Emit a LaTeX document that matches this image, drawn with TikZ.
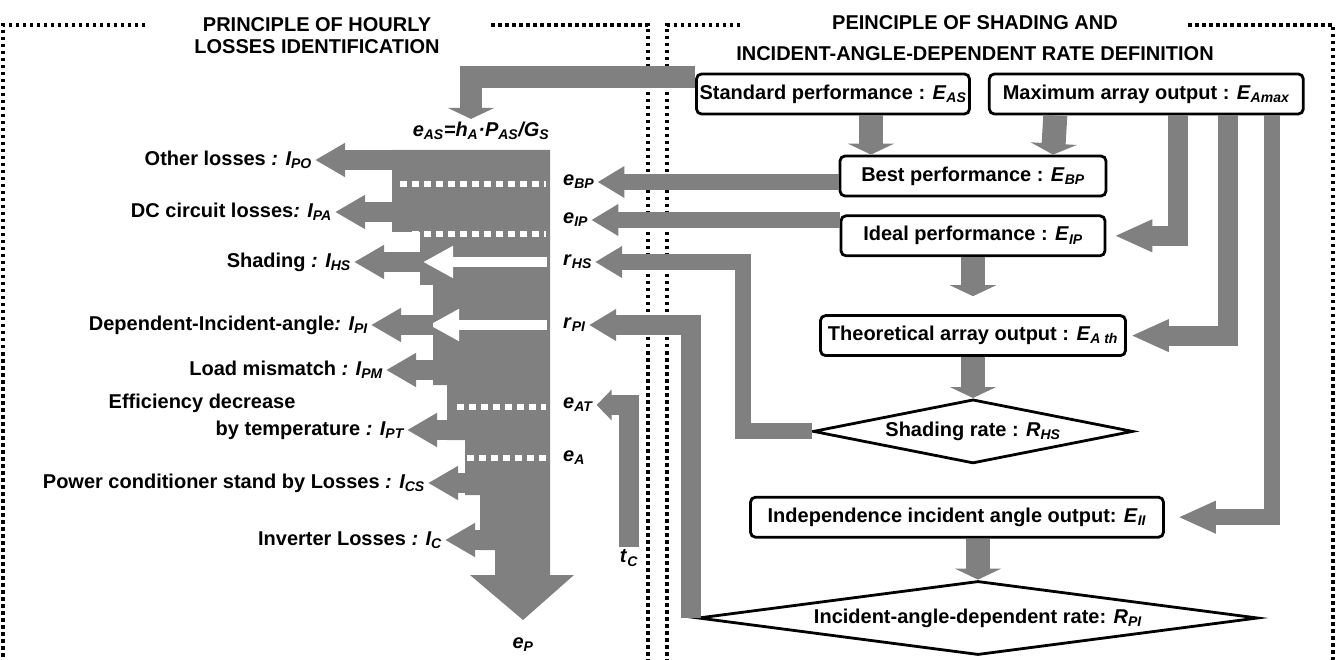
\documentclass[tikz,border=0pt]{standalone}
\usepackage{fontspec}
\setmainfont{Liberation Sans}
\usetikzlibrary{arrows.meta,positioning,shapes.geometric}
\definecolor{flowgray}{RGB}{128,128,128}
\newcommand{\qsym}[2]{\textit{#1}\textsubscript{\textit{#2}}}

\begin{document}
\begin{tikzpicture}[
      x=1pt, y=-1pt,
      every node/.style={font=\bfseries\fontsize{20}{23}\selectfont, inner sep=3pt},
      framepart/.style={line width=3.5pt, dash pattern=on 3.5pt off 3.5pt},
      flowbox/.style={draw, line width=2.8pt, rounded corners=5pt, minimum height=40pt, fill=white},
      ratebox/.style={diamond, draw, line width=2.8pt, inner sep=0pt, fill=white},
      lossarrow/.style={draw=flowgray, line width=20pt, -{Triangle[width=32pt,length=30pt]}},
      feedarrow/.style={draw=flowgray, line width=16pt, -{Triangle[width=30pt,length=27pt]}},
      downarrow/.style={draw=flowgray, line width=24pt, -{Triangle[width=46pt,length=11pt]}},
      sidearrow/.style={draw=flowgray, line width=20pt, -{Triangle[width=30pt,length=38pt]}},
      whitedash/.style={draw=white, line width=6.5pt, dash pattern=on 7pt off 5pt},
      whitearrow/.style={draw=white, line width=10pt, -{Triangle[width=30pt,length=30pt]}},
    ]
    \useasboundingbox (0,0) rectangle (1339,660);

    % Two dotted frames with their titles
    \node[align=center] (lhead) at (317,36) {PRINCIPLE OF HOURLY\\[-1pt]LOSSES IDENTIFICATION};
    \node[align=center] (rhead) at (975,38) {PEINCIPLE OF SHADING AND\\[8pt]INCIDENT-ANGLE-DEPENDENT RATE DEFINITION};
    \draw[framepart] (145,25) -- (3,25) -- (3,662);
    \draw[framepart] (491,25) -- (648,25) -- (648,662);
    \draw[framepart] (740,25) -- (667,25) -- (667,662);
    \draw[framepart] (1188,25) -- (1333,25) -- (1333,662);

    % Main energy flow, narrowing with every loss
    \fill[flowgray] (392,150) -- (550,150) -- (550,575) -- (574,575) -- (523,620)
      -- (470,575) -- (495,575) -- (495,550) -- (480,550) -- (480,495) -- (465,495)
      -- (465,440) -- (447,440) -- (447,385) -- (433,385) -- (433,285) -- (420,285)
      -- (420,232) -- (392,232) -- cycle;
    \draw[whitedash] (400,184) -- (546,184);
    \draw[whitedash] (412,234) -- (546,234);
    \draw[whitedash] (457,407) -- (546,407);
    \draw[whitedash] (467,458) -- (546,458);
    \draw[whitearrow] (547,262) -- (423,262);
    \draw[whitearrow] (547,325) -- (429,325);

    \node (eas) at (481,131) {\textit{\qsym{e}{AS}=\qsym{h}{A}·\qsym{P}{AS}/\qsym{G}{S}}};
    \node (ep) at (523,645) {\qsym{e}{P}};

    % Loss outlets on the left
    \coordinate (bPO) at (392,160);
    \coordinate (bPA) at (392,212);
    \coordinate (bHS) at (420,262);
    \coordinate (bPI) at (433,325);
    \coordinate (bPM) at (433,370);
    \coordinate (bPT) at (447,430);
    \coordinate (bCS) at (465,483);
    \coordinate (bC)  at (480,540);
    \node[left=77pt of bPO] (lPO) {Other losses \textit{: \qsym{I}{PO}}};
    \node[left=57pt of bPA] (lPA) {DC circuit losses\textit{: \qsym{I}{PA}}};
    \node[left=66pt of bHS] (lHS) {Shading \textit{: \qsym{I}{HS}}};
    \node[left=62pt of bPI] (lPI) {Dependent-Incident-angle\textit{: \qsym{I}{PI}}};
    \node[left=47pt of bPM] (lPM) {Load mismatch \textit{: \qsym{I}{PM}}};
    \node[left=40pt of bPT] (lPT) {by temperature \textit{: \qsym{I}{PT}}};
    \node[anchor=base west] (lEff) at ([xshift=-107pt, yshift=27pt]lPT.base west) {Efficiency decrease};
    \node[left=37pt of bCS] (lCS) {Power conditioner stand by Losses \textit{: \qsym{I}{CS}}};
    \node[left=35pt of bC] (lC) {Inverter Losses \textit{: \qsym{I}{C}}};
    \foreach \k in {PO,PA,HS,PI,PM,PT,CS,C}
      \draw[lossarrow] (b\k) -- (l\k);

    % Rates and energies feeding the flow from the right
    \node[anchor=west] (ebp) at (560,182) {\qsym{e}{BP}};
    \node[anchor=west] (eip) at (560,220) {\qsym{e}{IP}};
    \node[anchor=west] (rhs) at (560,262) {\qsym{r}{HS}};
    \node[anchor=west] (rpi) at (560,325) {\qsym{r}{PI}};
    \node[anchor=west] (eat) at (560,405) {\qsym{e}{AT}};
    \node[anchor=west] (ea)  at (560,458) {\qsym{e}{A}};
    \node (tc) at (629,558) {\qsym{t}{C}};

    % Definition chain
    \node[flowbox, minimum width=273pt] (std) at (833,94) {Standard performance : \qsym{E}{AS}};
    \node[flowbox, minimum width=314pt, right=17pt of std] (max) {Maximum array output : \qsym{E}{Amax}};
    \node[flowbox, minimum width=266pt] (bp) at (973,176) {Best performance : \qsym{E}{BP}};
    \node[flowbox, minimum width=264pt, below=17pt of bp] (ip) {Ideal performance : \qsym{E}{IP}};
    \node[flowbox, minimum width=305pt, below=57pt of ip] (tao) {Theoretical array output : \qsym{E}{A th}};
    \node[ratebox, shape aspect=5, minimum width=320pt, minimum height=64pt, below=41pt of tao] (shd)
          {Shading rate : \qsym{R}{HS}};
    \node[flowbox, minimum width=413pt, below=31pt of shd, xshift=-16pt] (iio)
          {Independence incident angle output: \qsym{E}{II}};
    \node[ratebox, shape aspect=7.5, minimum width=560pt, minimum height=74pt, below=41pt of iio, xshift=21pt] (ipd)
          {Incident-angle-dependent rate: \qsym{R}{PI}};

    \draw[downarrow, line width=22pt] ([yshift=17pt]std.west) -| ([xshift=-10pt]eas.north);
    \draw[downarrow] ([xshift=38pt]std.south) -- ([xshift=-102pt]bp.north);
    \draw[downarrow] ([xshift=-91pt]max.south) -- ([xshift=80pt]bp.north);
    \draw[downarrow] (ip.south) -- ([yshift=18pt]tao.north);
    \draw[downarrow] (tao.south -| shd.north) -- (shd.north);
    \draw[downarrow] (iio.south -| ipd.north) -- (ipd.north);
    \draw[sidearrow] ([xshift=32pt]max.south) |- ([xshift=8pt]ip.east);
    \draw[sidearrow] ([xshift=82pt]max.south) |- ([xshift=4pt]tao.east);
    \draw[sidearrow, line width=16pt] ([xshift=126pt]max.south) |- ([xshift=13pt]iio.east);

    \draw[feedarrow] (bp.west |- ebp) -- (ebp);
    \draw[feedarrow] (ip.west |- eip) -- (eip);
    \draw[feedarrow] (shd.west) -- ++(-69,0) |- (rhs);
    \draw[feedarrow, line width=20pt] ([xshift=-6pt]ipd.west) |- (rpi);
    \draw[feedarrow, line width=20pt, -{Triangle[width=30pt,length=15pt]}] (tc.north) |- (eat);
  \end{tikzpicture}
\end{document}
